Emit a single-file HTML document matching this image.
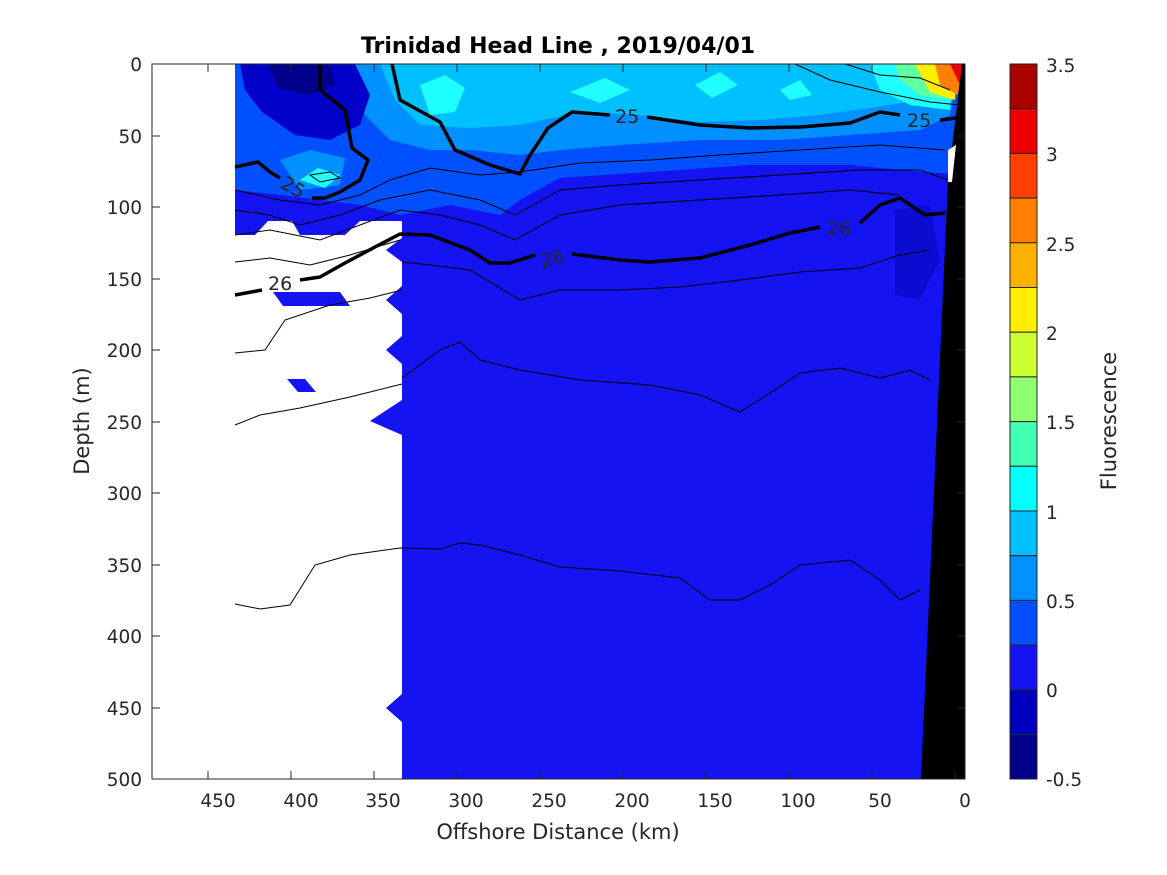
<!DOCTYPE html>
<html><head><meta charset="utf-8"><style>body{margin:0;background:#fff}svg{display:block}text{font-family:"DejaVu Sans","Liberation Sans",sans-serif;fill:#262626}</style></head><body>
<svg width="1167" height="875" viewBox="0 0 1167 875">
<rect width="1167" height="875" fill="#fff"/>
<rect x="235" y="64" width="730" height="157" fill="#1414f2"/>
<rect x="402" y="64" width="563" height="715" fill="#1414f2"/>
<polygon points="235,221 235,235 255,235 268,221" fill="#1414f2"/>
<polygon points="292,221 300,235 345,235 360,221" fill="#1414f2"/>
<polygon points="402,238 386,250 402,262" fill="#1414f2"/>
<polygon points="402,286 386,300 402,314" fill="#1414f2"/>
<polygon points="402,336 386,350 402,364" fill="#1414f2"/>
<polygon points="402,400 370,421 402,435" fill="#1414f2"/>
<polygon points="402,694 386,708 402,722" fill="#1414f2"/>
<polygon points="273,292 340,292 350,306 283,306" fill="#1414f2"/>
<polygon points="287,379 305,379 316,392 298,392" fill="#1414f2"/>
<path d="M235,64 H965 V175 L900,170 L850,165 L750,165 L650,172 L560,178 L520,200 L500,215 L450,205 L400,215 L360,205 L320,200 L280,195 L235,190 Z" fill="#0050ff"/>
<path d="M340,64 L360,110 L390,140 L430,150 L470,150 L520,155 L560,150 L620,145 L700,140 L780,140 L850,135 L920,130 L950,115 L960,64 Z" fill="#0090ff"/>
<path d="M280,160 L310,150 L345,158 L340,185 L300,190 Z" fill="#0090ff"/>
<path d="M380,64 L395,100 L420,125 L470,128 L520,125 L580,112 L640,115 L700,122 L760,120 L820,115 L870,108 L920,100 L955,85 L958,64 Z" fill="#00c0ff"/>
<path d="M420,85 L445,75 L465,88 L455,112 L430,115 Z" fill="#20ffff"/>
<path d="M570,92 L605,78 L630,90 L600,103 Z M695,85 L720,72 L738,85 L712,98 Z M780,90 L800,80 L812,95 L790,100 Z" fill="#20ffff"/>
<path d="M300,180 L318,168 L340,175 L325,188 Z" fill="#20ffff"/>
<path d="M870,64 L955,64 L950,110 L910,105 L880,90 Z" fill="#20ffff"/>
<path d="M895,64 L955,64 L952,100 L920,95 L900,80 Z" fill="#60ffa0"/>
<path d="M915,64 L958,64 L955,100 L930,92 Z" fill="#ffee00"/>
<path d="M935,64 L962,64 L958,95 L940,85 Z" fill="#ff8000"/>
<path d="M950,64 L964,64 L960,85 Z" fill="#ee0000"/>
<path d="M240,64 L355,64 L370,95 L360,125 L330,140 L295,135 L262,112 L245,90 Z" fill="#0000c8"/>
<path d="M268,64 L330,64 L335,85 L310,95 L278,88 Z" fill="#00008a"/>
<path d="M895,210 L930,205 L940,260 L920,300 L895,295 Z" fill="#0c0cd0"/>
<polygon points="962,64 965,64 965,779 921,779 948,180" fill="#000"/>
<polygon points="948,150 956,145 952,182 948,182" fill="#fff"/>
<g fill="none" stroke="#000" stroke-width="1">
<path d="M235,190 L280,200 L320,205 L360,195 L390,180 L430,168 L480,175 L520,172 L580,163 L650,160 L720,155 L800,150 L880,145 L945,150"/>
<path d="M235,210 L270,215 L300,225 L340,215 L380,200 L430,190 L480,200 L515,215 L560,190 L620,185 L700,180 L780,175 L860,170 L920,170 L948,180"/>
<path d="M235,235 L270,230 L320,240 L360,225 L400,210 L440,215 L480,225 L515,240 L560,215 L620,205 L700,200 L780,195 L850,190 L900,195"/>
<path d="M235,262 L270,258 L310,265 L350,255 L400,240"/>
<path d="M402,262 L430,265 L470,270 L520,300 L560,290 L620,290 L680,287 L740,280 L800,272 L860,268 L900,255 L930,250"/>
<path d="M235,353 L265,350 L285,320 L330,305 L370,298 L402,290"/>
<path d="M402,378 L440,350 L460,342 L480,360 L520,370 L580,380 L650,385 L700,395 L740,412 L770,393 L800,373 L840,368 L880,378 L910,370 L930,380"/>
<path d="M235,425 L260,415 L300,408 L350,397 L402,384"/>
<path d="M235,604 L260,609 L290,605 L315,565 L350,555 L400,548 L440,549 L460,543 L480,545 L520,555 L560,567 L620,571 L680,578 L710,600 L740,600 L770,585 L800,565 L850,560 L880,580 L900,600 L920,590"/>
<path d="M845,64 L880,75 L920,78 L950,90"/>
<path d="M795,64 L830,80 L880,92 L930,102 L960,105"/>
<path d="M310,175 L330,172 L340,178 L320,182 Z"/>
</g>
<g fill="none" stroke="#000" stroke-width="3.5" stroke-linejoin="round">
<path d="M320,64 L320,90 L345,110 L352,148 L368,160 L360,180 L340,192 L325,198 L312,198"/>
<path d="M235,167 L258,162 L270,172 L280,178"/>
<path d="M392,64 L400,100 L440,122 L455,150 L490,165 L520,174 L530,155 L548,128 L572,112 L610,115"/>
<path d="M647,117 L700,125 L750,128 L800,127 L850,123 L880,112 L900,115"/>
<path d="M940,120 L965,117"/>
<path d="M235,295 L262,290"/>
<path d="M300,280 L320,277 L345,263 L375,247 L400,234 L430,235 L470,250 L490,263 L510,263 L535,255"/>
<path d="M572,254 L620,260 L650,262 L700,258 L750,245 L790,233 L820,227"/>
<path d="M860,223 L880,205 L900,198 L925,215 L945,213"/>
</g>
<g font-size="19">
<text x="282" y="193" transform="rotate(30 292 185)">25</text>
<text x="615" y="123">25</text>
<text x="907" y="127">25</text>
<text x="268" y="290">26</text>
<text x="540" y="265" transform="rotate(-15 553 258)">26</text>
<text x="827" y="235">26</text>
</g>
<rect x="152" y="64" width="813" height="715" fill="none" stroke="#262626" stroke-width="1"/>
<g stroke="#262626" stroke-width="1">
<path d="M208,779v-8M291,779v-8M374,779v-8M457,779v-8M540,779v-8M623,779v-8M706,779v-8M789,779v-8M872,779v-8M955,779v-8M208,64v8M291,64v8M374,64v8M457,64v8M540,64v8M623,64v8M706,64v8M789,64v8M872,64v8"/>
<path d="M152,136h8M152,207h8M152,350h8M152,493h8M152,636h8M152,279h8M152,422h8M152,565h8M152,708h8M965,136h-8M965,207h-8M965,279h-8M965,350h-8M965,422h-8M965,493h-8M965,565h-8M965,636h-8M965,708h-8"/>
</g>
<g font-size="18.5" text-anchor="middle">
<text x="218" y="807">450</text><text x="301" y="807">400</text><text x="383" y="807">350</text><text x="466" y="807">300</text><text x="549" y="807">250</text><text x="632" y="807">200</text><text x="715" y="807">150</text><text x="798" y="807">100</text><text x="880" y="807">50</text><text x="965" y="807">0</text>
</g>
<g font-size="18.5" text-anchor="end">
<text x="142" y="71">0</text><text x="142" y="143">50</text><text x="142" y="214">100</text><text x="142" y="286">150</text><text x="142" y="357">200</text><text x="142" y="429">250</text><text x="142" y="500">300</text><text x="142" y="572">350</text><text x="142" y="643">400</text><text x="142" y="715">450</text><text x="142" y="786">500</text>
</g>
<text x="558" y="839" font-size="21" text-anchor="middle">Offshore Distance (km)</text>
<text x="89" y="421" font-size="21" text-anchor="middle" transform="rotate(-90 89 421)">Depth (m)</text>
<text x="558" y="53" font-size="22" font-weight="bold" text-anchor="middle" style="fill:#000">Trinidad Head Line , 2019/04/01</text>
<g stroke="#262626" stroke-width="1">
<rect x="1010" y="64.0" width="27" height="44.7" fill="#aa0000"/>
<rect x="1010" y="108.7" width="27" height="44.7" fill="#ee0000"/>
<rect x="1010" y="153.4" width="27" height="44.7" fill="#ff4000"/>
<rect x="1010" y="198.1" width="27" height="44.7" fill="#ff8000"/>
<rect x="1010" y="242.8" width="27" height="44.7" fill="#ffb000"/>
<rect x="1010" y="287.5" width="27" height="44.7" fill="#ffee00"/>
<rect x="1010" y="332.2" width="27" height="44.7" fill="#ccff30"/>
<rect x="1010" y="376.9" width="27" height="44.7" fill="#90ff70"/>
<rect x="1010" y="421.6" width="27" height="44.7" fill="#40ffb0"/>
<rect x="1010" y="466.3" width="27" height="44.7" fill="#00ffff"/>
<rect x="1010" y="511.0" width="27" height="44.7" fill="#00c0ff"/>
<rect x="1010" y="555.7" width="27" height="44.7" fill="#0090ff"/>
<rect x="1010" y="600.4" width="27" height="44.7" fill="#0050ff"/>
<rect x="1010" y="645.1" width="27" height="44.7" fill="#1414f2"/>
<rect x="1010" y="689.8" width="27" height="44.7" fill="#0000c0"/>
<rect x="1010" y="734.5" width="27" height="44.5" fill="#00008a"/>
</g>
<g font-size="18.5">
<text x="1046" y="72">3.5</text><text x="1046" y="161">3</text><text x="1046" y="251">2.5</text><text x="1046" y="340">2</text><text x="1046" y="429">1.5</text><text x="1046" y="519">1</text><text x="1046" y="608">0.5</text><text x="1046" y="697">0</text><text x="1046" y="786">-0.5</text>
</g>
<text x="1116" y="421" font-size="21" text-anchor="middle" transform="rotate(-90 1116 421)">Fluorescence</text>
</svg>
</body></html>
